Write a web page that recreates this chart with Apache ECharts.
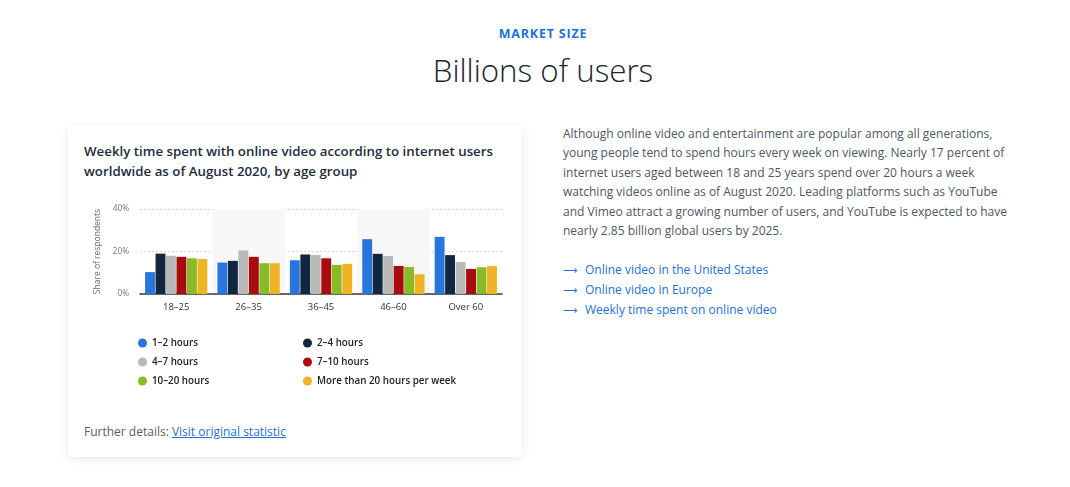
<!DOCTYPE html>
<html>
<head>
<meta charset="utf-8">
<script src="https://cdn.jsdelivr.net/npm/echarts@6/dist/echarts.min.js"></script>
<style>
  html, body { margin:0; padding:0; background:#fff; width:1070px; height:487px; overflow:hidden; font-family:"Open Sans", "Noto Sans", sans-serif; }
  .abs { position:absolute; }
  #kicker { left:0; width:1086px; top:25px; text-align:center; font-size:12.5px; font-weight:700; color:#1a73d9; letter-spacing:0.8px; line-height:18px; }
  #headline { left:0; width:1086px; top:49px; text-align:center; font-size:31.3px; font-weight:300; color:#1c2331; line-height:42px; }
  #card { left:68px; top:125px; width:454px; height:332px; background:#fff; border-radius:5px; box-shadow:0 2px 10px rgba(30,40,70,0.10); }
  #ctitle { left:84px; top:141px; font-size:13.3px; font-weight:600; color:#222c3c; line-height:20px; white-space:nowrap; }
  #chart { left:80px; top:195px; width:440px; height:220px; }
  #further { left:84px; top:423px; font-size:12px; color:#52606f; line-height:18px; white-space:nowrap; }
  #further a { color:#1f70d2; text-decoration:underline; }
  #para { left:563px; top:124px; font-size:12px; color:#4c5766; line-height:19.4px; white-space:nowrap; }
  #links { left:563px; top:260px; font-size:12px; color:#1a73d9; line-height:19px; white-space:nowrap; }
  #links .arr { display:inline-block; width:22px; font-size:10px; }
</style>
</head>
<body>
<div id="kicker" class="abs">MARKET SIZE</div>
<div id="headline" class="abs">Billions of users</div>
<div id="card" class="abs"></div>
<div id="ctitle" class="abs">Weekly time spent with online video according to internet users<br>worldwide as of August 2020, by age group</div>
<div id="chart" class="abs"></div>
<div id="further" class="abs">Further details: <a>Visit original statistic</a></div>
<div id="para" class="abs">Although online video and entertainment are popular among all generations,<br>young people tend to spend hours every week on viewing. Nearly 17 percent of<br>internet users aged between 18 and 25 years spend over 20 hours a week<br>watching videos online as of August 2020. Leading platforms such as YouTube<br>and Vimeo attract a growing number of users, and YouTube is expected to have<br>nearly 2.85 billion global users by 2025.</div>
<div id="links" class="abs"><span class="arr">&#10230;</span>Online video in the United States<br><span class="arr">&#10230;</span>Online video in Europe<br><span class="arr">&#10230;</span>Weekly time spent on online video</div>
<script>
const categories = ['18–25', '26–35', '36–45', '46–60', 'Over 60'];
const seriesNames = ['1–2 hours', '2–4 hours', '4–7 hours', '7–10 hours', '10–20 hours', 'More than 20 hours per week'];
const seriesColors = ['#2876dd', '#11263f', '#b8b8b8', '#a90c0f', '#88bb26', '#f0b323'];
const hours1to2   = [10.3, 14.8, 15.9, 25.8, 26.9];
const hours2to4   = [19.0, 15.6, 18.6, 18.9, 18.3];
const hours4to7   = [18.0, 20.5, 18.3, 17.9, 15.1];
const hours7to10  = [17.5, 17.5, 16.8, 13.2, 11.8];
const hours10to20 = [16.8, 14.5, 13.7, 12.7, 12.6];
const hoursOver20 = [16.5, 14.5, 14.2,  9.3, 13.1];
const yTicks = [0, 20, 40];

const seriesData = [hours1to2, hours2to4, hours4to7, hours7to10, hours10to20, hoursOver20];

const chart = echarts.init(document.getElementById('chart'), null, {renderer: 'canvas'});
const legendText = { fontFamily: '"Open Sans", sans-serif', fontSize: 9.8, fontWeight: 600, color: '#222', lineHeight: 12 };
chart.setOption({
  animation: false,
  grid: { left: 60, right: 18, top: 14, bottom: 121, containLabel: false },
  legend: [
    { data: [seriesNames[0], seriesNames[2], seriesNames[4]], orient: 'vertical', left: 58, top: 142, padding: 0, height: 70,
      icon: 'circle', itemWidth: 9, itemHeight: 9, itemGap: 7, textStyle: legendText, selectedMode: false },
    { data: [seriesNames[1], seriesNames[3], seriesNames[5]], orient: 'vertical', left: 223, top: 142, padding: 0, height: 70,
      icon: 'circle', itemWidth: 9, itemHeight: 9, itemGap: 7, textStyle: legendText, selectedMode: false }
  ],
  xAxis: {
    type: 'category', data: categories,
    axisLine: { show: true, lineStyle: { color: '#3a3a3a', width: 1.5 } },
    axisTick: { show: false },
    axisLabel: { color: '#333', fontSize: 9.5, margin: 8, fontFamily: '"Open Sans", sans-serif' },
    splitArea: { show: true, areaStyle: { color: ['rgba(255,255,255,0)', '#f7f7f7'] } }
  },
  yAxis: {
    type: 'value', min: yTicks[0], max: yTicks[yTicks.length - 1], interval: 20,
    name: 'Share of respondents', nameLocation: 'middle', nameRotate: 90, nameGap: 38,
    nameTextStyle: { color: '#666', fontSize: 8.5, fontFamily: '"Open Sans", sans-serif' },
    axisLine: { show: false }, axisTick: { show: false },
    axisLabel: { formatter: '{value}%', color: '#777', fontSize: 8.3, margin: 11, fontFamily: '"Open Sans", sans-serif' },
    splitLine: { show: true, lineStyle: { color: '#d8d8d8', type: [2, 2], width: 1 } }
  },
  series: seriesNames.map((n, i) => ({
    name: n, type: 'bar', data: seriesData[i],
    barGap: '6%', barCategoryGap: '14%',
    itemStyle: { color: seriesColors[i] }
  }))
});
</script>
</body>
</html>
